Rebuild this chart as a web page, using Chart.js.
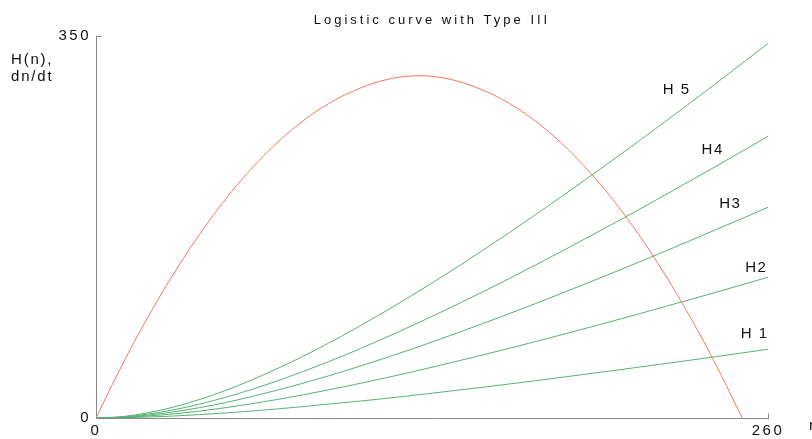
<!DOCTYPE html>
<html>
<head>
<meta charset="utf-8">
<script src="https://cdn.jsdelivr.net/npm/chart.js@4/dist/chart.umd.min.js"></script>
<style>
  html, body { margin: 0; padding: 0; background: #fff; }
</style>
</head>
<body>
<canvas id="chart" width="812" height="439"></canvas>
<script>
// prey density n
const nValues = [0, 10, 20, 30, 40, 50, 60, 70, 80, 90, 100, 110, 120, 130,
  140, 150, 160, 170, 180, 190, 200, 210, 220, 230, 240, 250, 260];

// logistic growth dn/dt (ends at the axis at n = 250)
const growth = [0, 48, 92, 132, 168, 200, 228, 252, 272, 288, 300, 308.5, 313, 313,
  308.5, 300, 288, 272, 252, 228, 200, 168, 132, 92, 48, 0, null];

// harvest curves, type III
const h1 = [0, 0.2, 0.9, 1.8, 3.1, 4.6, 6.3, 8.3, 10.4, 12.8, 15.0, 17.4, 20.0, 22.7,
  25.5, 28.3, 31.2, 34.2, 37.2, 40.3, 43.4, 46.6, 49.8, 53.0, 56.3, 59.6, 63.0];
const h2 = [0, 0.5, 1.8, 3.8, 6.3, 9.4, 13.0, 16.9, 21.2, 25.8, 30.6, 35.7, 41.0, 46.5,
  52.2, 58.0, 63.9, 70.0, 76.2, 82.5, 88.9, 95.4, 102.0, 108.6, 115.3, 122.1, 129.0];
const h3 = [0, 0.7, 2.6, 5.6, 9.5, 14.1, 19.5, 25.4, 31.8, 38.6, 45.9, 53.5, 61.4, 69.6,
  78.1, 86.8, 95.7, 104.8, 114.1, 123.5, 133.1, 142.8, 152.6, 162.6, 172.7, 182.8, 193.1];
const h4 = [0, 0.9, 3.5, 7.5, 12.7, 18.9, 26.0, 33.9, 42.5, 51.6, 61.3, 71.5, 82.1, 93.1,
  104.4, 116.0, 127.9, 140.1, 152.5, 165.1, 177.9, 190.9, 204.1, 217.4, 230.8, 244.4, 258.1];
const h5 = [0, 1.2, 4.7, 10.0, 16.9, 25.1, 34.6, 45.1, 56.4, 68.6, 81.5, 95.0, 109.1, 123.7,
  138.7, 154.2, 170.0, 186.2, 202.7, 219.5, 236.5, 253.7, 271.2, 288.9, 306.8, 324.9, 343.1];

const harvestNames = ['H 1', 'H2', 'H3', 'H4', 'H 5'];
const xTicks = [0, 260];
const yTicks = [0, 350];

const axisColor = '#8a8a8a';
const textColor = '#111';
const red = '#f4775a';
const green = '#55b274';
const fontFamily = '"Liberation Sans", Arial, sans-serif';

// where each harvest label sits, in data units (n, value)
const labelAnchors = [[254.6, 78], [255.2, 139], [245.1, 197], [238.3, 246.5], [224.4, 302]];

const toPoints = (vals) => nValues.map((n, i) => ({ x: n, y: vals[i] }));

const datasets = [h1, h2, h3, h4, h5].map((vals, i) => ({
  label: harvestNames[i],
  data: toPoints(vals),
  borderColor: green,
  borderWidth: 1,
  pointRadius: 0,
  cubicInterpolationMode: 'monotone'
}));
datasets.push({
  label: 'dn/dt',
  data: toPoints(growth),
  borderColor: red,
  borderWidth: 1,
  pointRadius: 0,
  tension: 0.4
});

const textLayer = {
  id: 'textLayer',
  beforeDraw(chart) {
    chart.ctx.letterSpacing = '2.5px';
  },
  afterDraw(chart) {
    const { ctx, scales: { x, y } } = chart;
    ctx.save();

    // small inward ticks at the ends of the axes
    ctx.strokeStyle = axisColor;
    ctx.lineWidth = 1;
    const left = Math.round(x.getPixelForValue(0)) + 0.5;
    const right = Math.round(x.getPixelForValue(260)) + 0.5;
    const top = Math.round(y.getPixelForValue(350)) + 0.5;
    const bottom = Math.round(y.getPixelForValue(0)) + 0.5;
    ctx.beginPath();
    ctx.moveTo(left, top);
    ctx.lineTo(left + 5, top);
    ctx.moveTo(right, bottom);
    ctx.lineTo(right, bottom - 5);
    ctx.stroke();

    ctx.fillStyle = textColor;
    ctx.textBaseline = 'alphabetic';

    // title
    ctx.font = '13px ' + fontFamily;
    ctx.letterSpacing = '3px';
    ctx.textAlign = 'center';
    ctx.fillText('Logistic curve with Type III', 432, 24);

    // y axis title
    ctx.font = '15px ' + fontFamily;
    ctx.letterSpacing = '1.8px';
    ctx.textAlign = 'left';
    ctx.fillText('H(n),', 11, 64);
    ctx.fillText('dn/dt', 11, 81);

    // x axis title, mostly off the right edge
    ctx.fillText('n', 809, 430);

    // harvest labels
    ctx.letterSpacing = '1.5px';
    ctx.textAlign = 'center';
    harvestNames.forEach((name, i) => {
      const [ax, ay] = labelAnchors[i];
      ctx.fillText(name, x.getPixelForValue(ax) + 0.75, y.getPixelForValue(ay) + 5.5);
    });

    ctx.restore();
  }
};

new Chart(document.getElementById('chart'), {
  type: 'line',
  data: { datasets },
  options: {
    responsive: false,
    animation: false,
    layout: { padding: { left: 0, right: 44, top: 36, bottom: 0 } },
    plugins: {
      legend: { display: false },
      title: { display: false },
      tooltip: { enabled: false }
    },
    scales: {
      x: {
        type: 'linear',
        min: 0,
        max: 260,
        afterFit(s) { s.height = 21; },
        afterBuildTicks(s) { s.ticks = xTicks.map(v => ({ value: v })); },
        grid: { display: false, drawTicks: false },
        border: { display: true, color: axisColor, width: 1 },
        ticks: {
          color: textColor,
          font: { family: fontFamily, size: 15 },
          padding: 4,
          maxRotation: 0,
          autoSkip: false
        }
      },
      y: {
        type: 'linear',
        min: 0,
        max: 350,
        afterFit(s) { s.width = 96; },
        afterBuildTicks(s) { s.ticks = yTicks.map(v => ({ value: v })); },
        grid: { display: false, drawTicks: false },
        border: { display: true, color: axisColor, width: 1 },
        ticks: {
          color: textColor,
          font: { family: fontFamily, size: 15 },
          padding: 5,
          autoSkip: false
        }
      }
    }
  },
  plugins: [textLayer]
});
</script>
</body>
</html>
